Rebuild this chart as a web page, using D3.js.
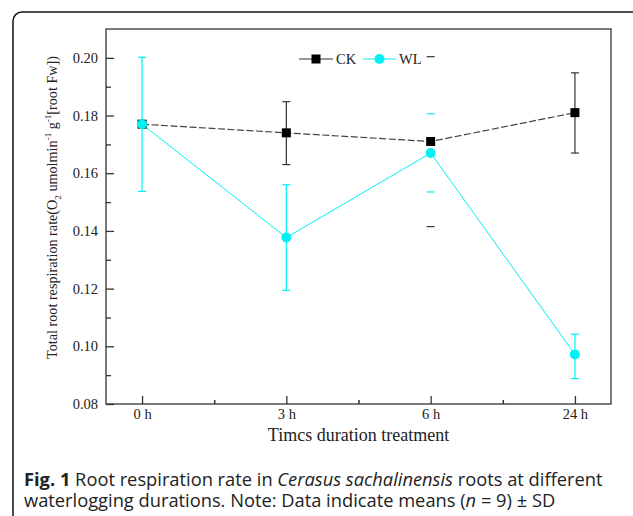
<!DOCTYPE html>
<html><head><meta charset="utf-8">
<script src="https://cdn.jsdelivr.net/npm/d3@7"></script>
<style>html,body{margin:0;padding:0;background:#fff;}</style>
</head><body>
<svg id="c" width="633" height="516"></svg>
<script>
const categories = ["0 h", "3 h", "6 h", "24 h"];
const ckMean = [0.177, 0.174, 0.171, 0.181];
const ckLow  = [0.177, 0.163, 0.1415, 0.167];
const ckHigh = [0.177, 0.1848, 0.2004, 0.1948];
const wlMean = [0.177, 0.1377, 0.167, 0.0972];
const wlLow  = [0.1537, 0.1194, 0.1535, 0.0888];
const wlHigh = [0.2002, 0.156, 0.1806, 0.1042];
const capsOnly = [false, false, true, false];
const yTicks = [0.08, 0.10, 0.12, 0.14, 0.16, 0.18, 0.20];
const yMinor = [0.09, 0.11, 0.13, 0.15, 0.17, 0.19];
const seriesNames = ["CK", "WL"];

const svg = d3.select("#c");
const serif = "'Liberation Serif','Times New Roman',serif";
const L = 106, R = 611, T = 29, B = 404;
const tickFs = 14.5;

// outer rounded box
svg.append("rect").attr("x", 13).attr("y", 12).attr("width", 640).attr("height", 530)
  .attr("rx", 9).attr("fill", "none").attr("stroke", "#111").attr("stroke-width", 1.5);

const x = d3.scaleLinear().domain([-0.25, 3.25]).range([L, R]);
const y = d3.scaleLinear().domain([0.08, 0.21]).range([B, T]);

// frame
svg.append("rect").attr("x", L).attr("y", T).attr("width", R - L).attr("height", B - T)
  .attr("fill", "none").attr("stroke", "#333").attr("stroke-width", 1.3);

// y axis
const yAx = svg.append("g").attr("transform", `translate(${L},0)`)
  .call(d3.axisLeft(y).tickValues(yTicks).tickFormat(d3.format(".2f")).tickSizeInner(-8).tickSizeOuter(0).tickPadding(8));
yAx.select(".domain").remove();
yAx.selectAll("line").attr("stroke", "#333").attr("stroke-width", 1.3);
yAx.selectAll("text").attr("font-family", serif).attr("font-size", tickFs).attr("fill", "#222");
svg.append("g").attr("transform", `translate(${L},0)`)
  .call(d3.axisLeft(y).tickValues(yMinor).tickFormat("").tickSizeInner(-5).tickSizeOuter(0))
  .call(g => g.select(".domain").remove())
  .selectAll("line").attr("stroke", "#333").attr("stroke-width", 1.3);

// x axis
const xAx = svg.append("g").attr("transform", `translate(0,${B})`)
  .call(d3.axisBottom(x).tickValues([0,1,2,3]).tickFormat(i => categories[i]).tickSizeInner(-8).tickSizeOuter(0).tickPadding(5));
xAx.select(".domain").remove();
xAx.selectAll("line").attr("stroke", "#333").attr("stroke-width", 1.3);
xAx.selectAll("text").attr("font-family", serif).attr("font-size", tickFs).attr("fill", "#222");
svg.append("g").attr("transform", `translate(0,${B})`)
  .call(d3.axisBottom(x).tickValues([0.5,1.5,2.5]).tickFormat("").tickSizeInner(-4).tickSizeOuter(0))
  .call(g => g.select(".domain").remove())
  .selectAll("line").attr("stroke", "#333").attr("stroke-width", 1.5);

// axis titles
svg.append("text").attr("x", (L + R) / 2).attr("y", 441).attr("text-anchor", "middle")
  .attr("font-family", serif).attr("font-size", 18).attr("fill", "#222").text("Timcs duration treatment");
const yt = svg.append("text").attr("transform", `translate(57,${(T + B) / 2 - 9}) rotate(-90)`)
  .attr("text-anchor", "middle").attr("font-family", serif).attr("font-size", 14.2).attr("fill", "#222");
yt.append("tspan").text("Total root respiration rate(O");
yt.append("tspan").attr("font-size", 9).attr("dy", 4).text("2");
yt.append("tspan").attr("dy", -4).text(" umolmin");
yt.append("tspan").attr("font-size", 9).attr("dy", -6).text("-1");
yt.append("tspan").attr("dy", 6).text(" g");
yt.append("tspan").attr("font-size", 9).attr("dy", -6).text("-1");
yt.append("tspan").attr("dy", 6).text("[root Fw])");

const idx = d3.range(categories.length);
const cyan = "#00f0f4";

// error bars
function errBars(low, high, color) {
  const g = svg.append("g").attr("stroke", color).attr("stroke-width", 1.2);
  idx.forEach(i => {
    if (low[i] === high[i]) return;
    if (!capsOnly[i]) g.append("line").attr("x1", x(i)).attr("x2", x(i)).attr("y1", y(low[i])).attr("y2", y(high[i]));
    [low[i], high[i]].forEach(v => g.append("line").attr("x1", x(i) - 4).attr("x2", x(i) + 4).attr("y1", y(v)).attr("y2", y(v)));
  });
}
errBars(ckLow, ckHigh, "#333");
errBars(wlLow, wlHigh, cyan);

// lines
const line = d3.line().x((d, i) => x(i)).y(d => y(d));
svg.append("path").datum(ckMean).attr("d", line).attr("fill", "none").attr("stroke", "#444")
  .attr("stroke-width", 1.2).attr("stroke-dasharray", "7,2.5");
svg.append("path").datum(wlMean).attr("d", line).attr("fill", "none").attr("stroke", cyan).attr("stroke-width", 1);

// markers
svg.append("g").selectAll("rect").data(ckMean).join("rect")
  .attr("x", (d, i) => x(i) - 4.5).attr("y", d => y(d) - 4.5).attr("width", 9).attr("height", 9).attr("fill", "#000");
svg.append("g").selectAll("circle").data(wlMean).join("circle")
  .attr("cx", (d, i) => x(i)).attr("cy", d => y(d)).attr("r", 5).attr("fill", cyan);

// legend
const lg = svg.append("g");
lg.append("line").attr("x1", 299).attr("x2", 333).attr("y1", 59).attr("y2", 59).attr("stroke", "#333").attr("stroke-width", 1.2);
lg.append("rect").attr("x", 311.5).attr("y", 54.5).attr("width", 9).attr("height", 9).attr("fill", "#000");
lg.append("text").attr("x", 336).attr("y", 64).attr("font-family", serif).attr("font-size", tickFs).attr("fill", "#222").text(seriesNames[0]);
lg.append("line").attr("x1", 363).attr("x2", 396).attr("y1", 59).attr("y2", 59).attr("stroke", cyan).attr("stroke-width", 1.2);
lg.append("circle").attr("cx", 379.5).attr("cy", 59).attr("r", 5).attr("fill", cyan);
lg.append("text").attr("x", 399).attr("y", 64).attr("font-family", serif).attr("font-size", tickFs).attr("fill", "#222").text(seriesNames[1]);

// caption
const sans = "'Open Sans','Noto Sans',sans-serif";
const c1 = svg.append("text").attr("x", 24).attr("y", 486).attr("font-family", sans).attr("font-size", 18.3).attr("fill", "#222");
c1.append("tspan").attr("font-weight", "bold").text("Fig. 1");
c1.append("tspan").text(" Root respiration rate in ");
c1.append("tspan").attr("font-style", "italic").text("Cerasus sachalinensis");
c1.append("tspan").text(" roots at different");
const c2 = svg.append("text").attr("x", 24).attr("y", 507).attr("font-family", sans).attr("font-size", 18.3).attr("fill", "#222");
c2.append("tspan").text("waterlogging durations. Note: Data indicate means (");
c2.append("tspan").attr("font-style", "italic").text("n");
c2.append("tspan").text(" = 9) ± SD");
</script>
</body></html>
